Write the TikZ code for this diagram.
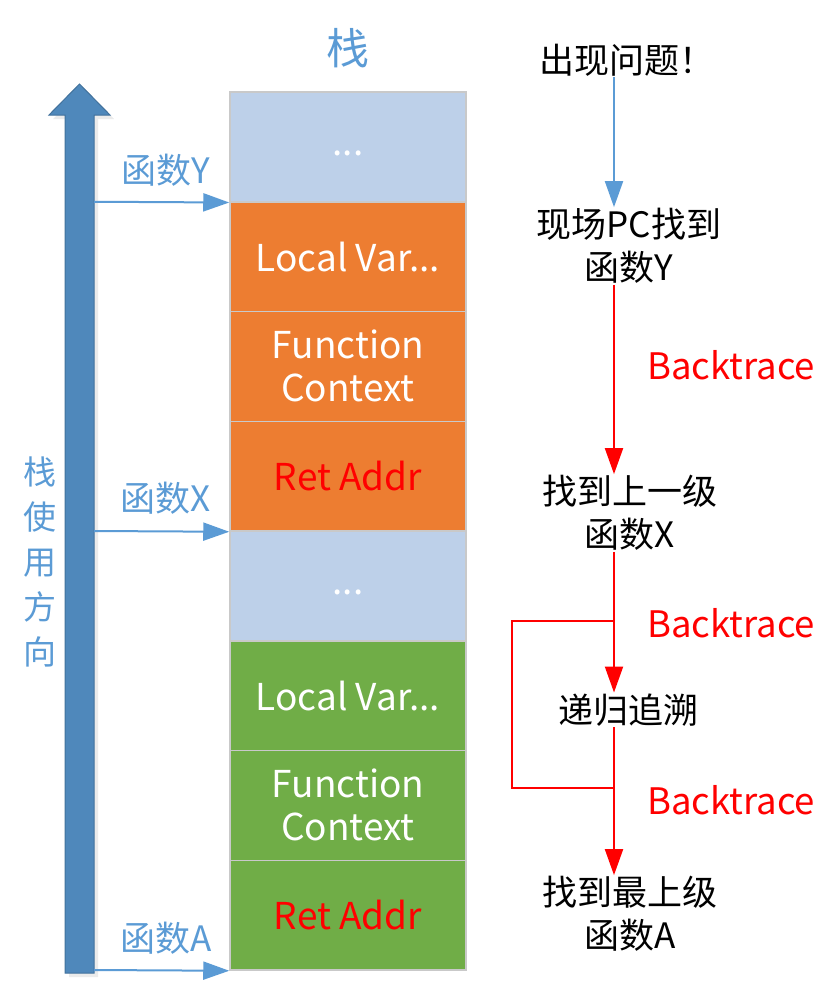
\documentclass[tikz,border=0pt]{standalone}
\usepackage{fontspec}
\setmainfont{Noto Sans CJK SC}
\usetikzlibrary{arrows.meta}
\definecolor{stackblue}{HTML}{BDD0E9}
\definecolor{stackorange}{HTML}{ED7D31}
\definecolor{stackgreen}{HTML}{70AD47}
\definecolor{bigblue}{HTML}{4F88BB}
\definecolor{bigedge}{HTML}{41719C}
\definecolor{ptrblue}{HTML}{5B9BD5}
\definecolor{cellline}{HTML}{C9C9C9}
\definecolor{tred}{HTML}{FF0000}
\tikzset{
  cell/.style={draw=cellline, line width=1.5pt, minimum width=236pt, minimum height=109.75pt,
    inner sep=0pt, text=white, align=center, font=\fontsize{37}{43}\selectfont},
  bluetext/.style={text=ptrblue, font=\fontsize{35}{44}\selectfont, inner sep=0pt},
  flowtext/.style={text=black, align=center, font=\fontsize{35}{43}\selectfont, inner sep=1pt},
  redlabel/.style={text=tred, font=\fontsize{36.5}{40}\selectfont, inner sep=0pt},
  ptr/.style={draw=ptrblue, line width=2pt, -{Triangle[length=26pt,width=18pt]}},
  redarrow/.style={draw=tred, line width=2pt, -{Triangle[length=26pt,width=18pt]}},
  redline/.style={draw=tred, line width=2pt},
}
\begin{document}
\begin{tikzpicture}[x=1pt,y=-1pt]
\useasboundingbox (0,0) rectangle (835,990);
% title
\node[text=ptrblue, font=\fontsize{43}{43}\selectfont, inner sep=0pt] (title) at (348,48) {栈};
% big arrow
\fill[black!8] (69,977) -- (69,119) -- (53,119) -- (84,88) -- (114,119) -- (98,119) -- (98,977) -- cycle;
\draw[fill=bigblue, draw=bigedge, line width=1pt] (65,973) -- (65,115) -- (49,115) -- (79.5,84) -- (110,115) -- (94,115) -- (94,973) -- cycle;
\node[bluetext, align=center, font=\fontsize{33}{45}\selectfont] (dir) at (40,562) {栈\\使\\用\\方\\向};
% stack cells
\node[cell, fill=stackblue] (c1) at (348,146.875) {\raisebox{-4pt}{\strut...}};
\node[cell, fill=stackorange] (c2) at (348,256.625) {Local Var...};
\node[cell, fill=stackorange] (c3) at (348,366.375) {Function\\Context};
\node[cell, fill=stackorange, text=tred] (c4) at (348,476.125) {Ret Addr};
\node[cell, fill=stackblue] (c5) at (348,585.875) {\raisebox{-4pt}{\strut...}};
\node[cell, fill=stackgreen] (c6) at (348,695.625) {Local Var...};
\node[cell, fill=stackgreen] (c7) at (348,805.375) {Function\\Context};
\node[cell, fill=stackgreen, text=tred] (c8) at (348,915.125) {Ret Addr};
% pointers
\coordinate (pY) at (94,201.75);
\coordinate (pX) at (94,531);
\coordinate (pA) at (94,970);
\draw[ptr] (pY) -- (c1.south west);
\draw[ptr] (pX) -- (c4.south west);
\draw[ptr] (pA) -- (c8.south west);
\node[bluetext] (lY) at (166,170) {函数Y};
\node[bluetext] (lX) at (166,498) {函数X};
\node[bluetext] (lA) at (166,938) {函数A};
% flow
\coordinate (col) at (614,0);
\node[flowtext] (n1) at (627,60) {出现问题！};
\node[flowtext] (n2) at (629,246) {现场PC找到\\函数Y};
\node[flowtext] (n3) at (630,513) {找到上一级\\函数X};
\node[flowtext] (n4) at (628,710) {递归追溯};
\node[flowtext] (n5) at (630,914) {找到最上级\\函数A};
\draw[ptr] (n1.south -| col) -- (n2.north -| col);
\draw[redarrow] (n2.south -| col) -- (n3.north -| col);
\draw[redarrow] (n3.south -| col) -- (n4.north -| col);
\draw[redarrow] (n4.south -| col) -- (n5.north -| col);
\coordinate (la) at (614,621);
\coordinate (lb) at (614,788);
\draw[redline] (la) -- ++(-102,0) |- (lb);
\node[redlabel] (b1) at (731,365) {Backtrace};
\node[redlabel] (b2) at (731,623) {Backtrace};
\node[redlabel] (b3) at (731,800) {Backtrace};
\end{tikzpicture}
\end{document}
